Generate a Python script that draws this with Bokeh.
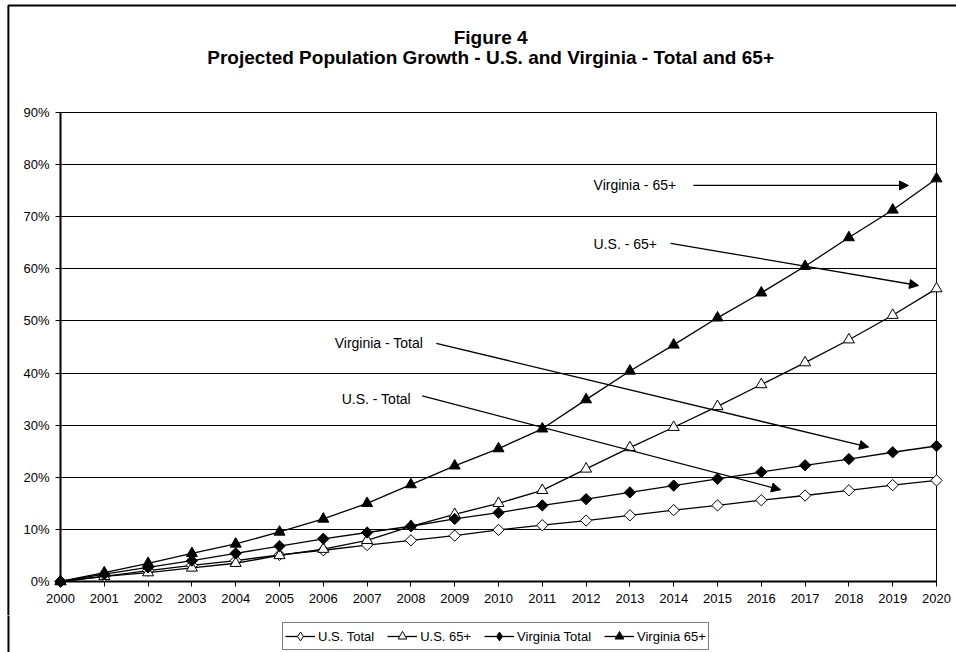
import math
from bokeh.plotting import figure
from bokeh.layouts import column
from bokeh.models import (Range1d, SingleIntervalTicker, PrintfTickFormatter, Label,
                          Arrow, NormalHead, Legend, LegendItem)
from bokeh.core.properties import value
from bokeh.embed import file_html
from bokeh.resources import INLINE

FONT = "Liberation Sans"

years = list(range(2000, 2021))
us_total = [0, 1.0, 2.1, 3.1, 4.0, 5.1, 6.0, 7.0, 7.9, 8.8, 9.9, 10.8, 11.7, 12.7, 13.7, 14.6, 15.6, 16.5, 17.5, 18.5, 19.4]
us_65 = [0, 1.0, 1.7, 2.6, 3.5, 5.0, 6.2, 7.9, 10.6, 12.9, 15.0, 17.5, 21.6, 25.7, 29.6, 33.6, 37.8, 42.0, 46.4, 51.1, 56.2]
va_total = [0, 1.4, 2.7, 4.0, 5.4, 6.8, 8.2, 9.4, 10.6, 12.0, 13.2, 14.6, 15.8, 17.1, 18.4, 19.7, 21.0, 22.3, 23.5, 24.8, 26.0]
va_65 = [0, 1.7, 3.5, 5.4, 7.2, 9.5, 12.0, 15.0, 18.6, 22.2, 25.5, 29.3, 34.9, 40.4, 45.4, 50.6, 55.4, 60.5, 66.0, 71.3, 77.3]

series_names = ["U.S. Total", "U.S. 65+", "Virginia Total", "Virginia 65+"]
series_markers = ["diamond", "triangle", "diamond", "triangle"]
series_fill = ["white", "white", "black", "black"]

title_lines = ["Figure 4", "Projected Population Growth - U.S. and Virginia - Total and 65+"]

ann_text = ["Virginia - 65+", "U.S. - 65+", "Virginia - Total", "U.S. - Total"]
ann_x = [2012.17, 2012.17, 2006.26, 2006.42]
ann_y = [76.0, 64.7, 45.7, 35.1]
arr_x0 = [2014.45, 2013.93, 2008.58, 2008.26]
arr_y0 = [76.0, 64.9, 45.7, 35.6]
arr_x1 = [2019.36, 2019.59, 2018.45, 2016.44]
arr_y1 = [76.0, 56.8, 25.8, 17.6]

W = 956
H1 = 615
H2 = 37

# ---------------- main chart ----------------
p = figure(width=W, height=H1, output_backend="svg", toolbar_location=None,
           x_range=Range1d(2000, 2020), y_range=Range1d(0, 90),
           min_border_left=60, min_border_right=20, min_border_top=112, min_border_bottom=34)
p.background_fill_color = "white"
p.border_fill_color = "white"
p.outline_line_color = "black"
p.outline_line_width = 1

p.xaxis.ticker = SingleIntervalTicker(interval=1)
p.yaxis.ticker = SingleIntervalTicker(interval=10)
p.yaxis.formatter = PrintfTickFormatter(format="%d%%")
for ax in (p.xaxis, p.yaxis):
    ax.axis_line_width = 2
    ax.axis_line_color = "black"
    ax.major_tick_line_color = "black"
    ax.major_tick_out = 5
    ax.major_tick_in = 0
    ax.minor_tick_line_color = None
    ax.major_label_text_font = FONT
    ax.major_label_text_font_size = "13px"
    ax.major_label_text_color = "black"
p.xaxis.major_label_standoff = 7
p.yaxis.major_label_standoff = 6

p.xgrid.visible = False
p.ygrid.grid_line_color = "black"
p.ygrid.grid_line_width = 1

all_series = [us_total, us_65, va_total, va_65]
for vals, mk, fc in zip(all_series, series_markers, series_fill):
    p.line(years, vals, line_color="black", line_width=1.3, level="overlay")
    if mk == "diamond":
        p.scatter(years, vals, marker="square", size=8, angle=math.pi / 4,
                  fill_color=fc, line_color="black", line_width=1, level="overlay")
    else:
        p.scatter(years, vals, marker="triangle", size=11, fill_color=fc,
                  line_color="black", line_width=1, level="overlay")

for t, x, y in zip(ann_text, ann_x, ann_y):
    p.add_layout(Label(x=x, y=y, text=t, text_font=FONT, text_font_size="14px",
                       text_baseline="middle", text_align="left", text_color="black",
                       level="overlay"))
for x0, y0, x1, y1 in zip(arr_x0, arr_y0, arr_x1, arr_y1):
    p.add_layout(Arrow(x_start=x0, y_start=y0, x_end=x1, y_end=y1, line_width=1.3,
                       line_color="black", level="overlay",
                       end=NormalHead(size=9, fill_color="black", line_color="black")))

# title (text glyph placed above the frame)
title_x = [2009.82, 2009.82]
title_y = [104.4, 100.55]
p.text(x=title_x, y=title_y, text=title_lines, text_font=value(FONT), text_font_size="19px",
       text_font_style="bold", text_align="center", text_baseline="middle",
       text_color="black", level="overlay")

# outer chart-area border (top and left edges visible)
border_x = [1998.81, 1998.81, 2022.0]
border_y = [-20.0, 110.53, 110.53]
p.line(border_x, border_y, line_color="black", line_width=2, level="overlay")

# ---------------- legend strip (frame aligned with the chart's frame: 60..936 px) ----------------
q = figure(width=W, height=H2, output_backend="svg", toolbar_location=None,
           x_range=Range1d(60, 936), y_range=Range1d(0, H2),
           x_axis_location=None, y_axis_location=None,
           min_border_left=0, min_border_right=0, min_border_top=0, min_border_bottom=0)
q.grid.visible = False
q.outline_line_color = None
q.background_fill_color = "white"
q.border_fill_color = "white"

items = []
for name, vals, mk, fc in zip(series_names, all_series, series_markers, series_fill):
    ln = q.line(years, vals, line_color="black", line_width=1.3, visible=False)
    sc = q.scatter(years, vals, marker=mk, size=10, fill_color=fc, line_color="black",
                   line_width=1, visible=False)
    items.append(LegendItem(label=name, renderers=[ln, sc]))

legend = Legend(items=items, orientation="horizontal", location=(222, 2),
                label_text_font=FONT, label_text_font_size="13px", label_text_color="black",
                glyph_width=30, glyph_height=22, label_standoff=3, spacing=13, padding=2,
                margin=0, border_line_color="black", border_line_width=1,
                background_fill_color="white", background_fill_alpha=1,
                inactive_fill_alpha=0)
q.add_layout(legend)

# continuation of the outer border's left edge
q.line([8, 8], [0, H2], line_color="black", line_width=2, level="overlay")

layout = column(p, q, spacing=0)
open("out.html", "w").write(file_html(layout, INLINE))
